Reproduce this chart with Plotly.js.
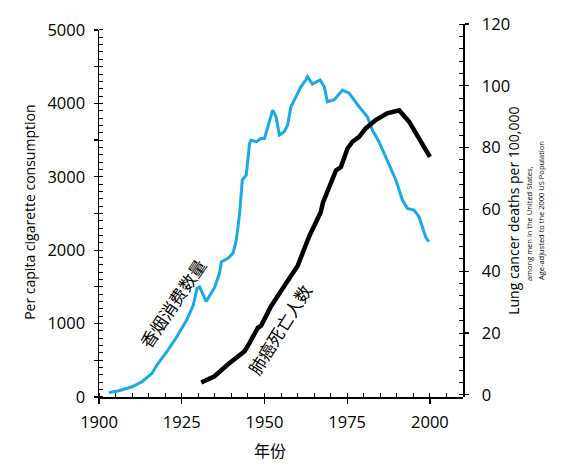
<!DOCTYPE html>
<html>
<head>
<meta charset="utf-8">
<script src="https://cdn.plot.ly/plotly-3.0.1.min.js"></script>
<style>
  body { margin: 0; background: #fff; }
  #chart { width: 564px; height: 467px; }
</style>
</head>
<body>
<div id="chart"></div>
<script>

// per capita cigarette consumption (left axis)
const cigYears = [1903, 1906, 1910, 1913, 1916, 1917.5, 1920.5, 1923.5, 1926.5, 1928.5,
    1929.6, 1930.4, 1932.4, 1935, 1936.4, 1937, 1939, 1940.5, 1941.5, 1942.5,
    1943.3, 1944.5, 1945.5, 1946, 1947.5, 1949, 1950, 1951, 1952.5, 1953.5,
    1954.5, 1956, 1957, 1958, 1959.5, 1961, 1962.5, 1963, 1964.5, 1966,
    1966.8, 1968.1, 1969, 1971.1, 1973.6, 1975.6, 1978.6, 1981.1, 1982.6, 1984.6,
    1987.1, 1989.7, 1991.7, 1993.2, 1995.2, 1996.7, 1997.7, 1998.7, 1999.7];
const cigValues = [60, 86, 140, 208, 322, 436, 617, 821, 1049, 1253,
    1480, 1500, 1300, 1500, 1685, 1843, 1889, 1960, 2138, 2502,
    2955, 3024, 3455, 3500, 3477, 3523, 3523, 3682, 3909, 3818,
    3568, 3613, 3705, 3954, 4090, 4226, 4318, 4362, 4263, 4294,
    4318, 4226, 4022, 4050, 4181, 4140, 3954, 3818, 3637, 3477,
    3228, 2956, 2683, 2570, 2547, 2456, 2320, 2183, 2115];

// lung cancer deaths per 100,000 (right axis)
const deathYears = [1930.9, 1934.9, 1938.9, 1944, 1945.5, 1947, 1948, 1949, 1952, 1956,
    1960, 1963.6, 1967, 1967.7, 1969, 1971.6, 1973.1, 1975.1, 1976.6, 1978.6,
    1980.6, 1983.6, 1987.1, 1989.2, 1990.7, 1993.7, 1996.7, 2000];
const deathValues = [4.0, 6.0, 9.8, 14.1, 16.8, 20.1, 21.7, 22.4, 28.7, 35.2,
    41.7, 51.5, 59.1, 62.3, 65.6, 72.6, 73.7, 79.7, 81.9, 83.5,
    86.2, 88.9, 91.1, 91.6, 92.1, 88.4, 82.9, 77.0];

const leftTicks = [0, 500, 1000, 1500, 2000, 2500, 3000, 3500, 4000, 4500, 5000];
const rightTicks = [0, 20, 40, 60, 80, 100, 120];
const yearTicks = [1900, 1925, 1950, 1975, 2000];

const font = "Open Sans, Noto Sans, sans-serif";
const cjk = "Noto Sans CJK SC, sans-serif";

const traces = [];

traces.push({
    x: cigYears,
    y: cigValues,
    mode: "lines",
    line: { color: "#1ca8e2", width: 3 },
    xaxis: "x",
    yaxis: "y",
    hoverinfo: "skip"
});

traces.push({
    x: deathYears,
    y: deathValues,
    mode: "lines",
    line: { color: "#000000", width: 4.5 },
    xaxis: "x",
    yaxis: "y2",
    hoverinfo: "skip"
});

const layout = {
    width: 564,
    height: 467,
    margin: { l: 99, r: 101, t: 24, b: 70 },
    paper_bgcolor: "#fff",
    plot_bgcolor: "rgba(0,0,0,0)",
    showlegend: false,
    font: { family: font, color: "#000" },

    xaxis: {
        range: [1900, 2010],
        tickvals: yearTicks,
        ticktext: yearTicks.map(String),
        ticks: "outside",
        ticklen: 5,
        tickwidth: 1.2,
        tickcolor: "#000",
        minor: { dtick: 5, tick0: 1900, ticks: "inside", ticklen: 4, tickcolor: "#000", tickwidth: 1 },
        showgrid: false,
        zeroline: false,
        showline: true,
        linecolor: "#000",
        linewidth: 1.5,
        tickfont: { size: 16.5 },
        ticklabelstandoff: 5,
        anchor: "y"
    },

    yaxis: {
        domain: [0, 0.984],
        range: [0, 5000],
        tickvals: leftTicks,
        ticktext: leftTicks.map(v => v % 1000 === 0 ? String(v) : ""),
        ticks: "outside",
        ticklen: 4,
        tickwidth: 1.2,
        tickcolor: "#000",
        minor: { dtick: 100, ticks: "inside", ticklen: 4, tickcolor: "#000", tickwidth: 1 },
        showgrid: false,
        zeroline: false,
        showline: true,
        linecolor: "#000",
        linewidth: 1.5,
        tickfont: { size: 16.5 },
        ticklabelstandoff: 5,
        anchor: "x"
    },

    yaxis2: {
        domain: [0, 1],
        range: [-0.7, 120],
        side: "right",
        anchor: "x",
        tickvals: rightTicks,
        ticktext: rightTicks.map(String),
        ticks: "outside",
        ticklen: 4,
        tickwidth: 1.2,
        tickcolor: "#000",
        minor: { dtick: 4, ticks: "inside", ticklen: 4, tickcolor: "#000", tickwidth: 1 },
        showgrid: false,
        zeroline: false,
        showline: true,
        linecolor: "#000",
        linewidth: 1.5,
        tickfont: { size: 16.5 },
        ticklabelstandoff: 10
    },

    annotations: [
        {
            text: "Per capita cigarette consumption",
            xref: "paper", yref: "paper", x: -0.19, y: 0.496,
            textangle: -90, showarrow: false,
            xanchor: "center", yanchor: "middle",
            font: { size: 14, family: font }
        },
        {
            text: "Lung cancer deaths per 100,000",
            xref: "paper", yref: "paper", x: 1.14, y: 0.499,
            textangle: -90, showarrow: false,
            xanchor: "center", yanchor: "middle",
            font: { size: 14, family: font }
        },
        {
            text: "among men in the United States,",
            xref: "paper", yref: "paper", x: 1.181, y: 0.466,
            textangle: -90, showarrow: false,
            xanchor: "center", yanchor: "middle",
            font: { size: 7.5, family: font }
        },
        {
            text: "Age-adjusted to the 2000 US Population",
            xref: "paper", yref: "paper", x: 1.214, y: 0.501,
            textangle: -90, showarrow: false,
            xanchor: "center", yanchor: "middle",
            font: { size: 7.5, family: font }
        },
        {
            text: "年份",
            xref: "paper", yref: "paper", x: 0.47, y: -0.142,
            showarrow: false,
            xanchor: "center", yanchor: "middle",
            font: { size: 16, family: cjk }
        },
        {
            text: "香烟消费数量",
            xref: "paper", yref: "paper", x: 0.2005, y: 0.252,
            textangle: -56, showarrow: false,
            xanchor: "center", yanchor: "middle",
            font: { size: 17, family: cjk }
        },
        {
            text: "肺癌死亡人数",
            xref: "paper", yref: "paper", x: 0.4945, y: 0.182,
            textangle: -58, showarrow: false,
            xanchor: "center", yanchor: "middle",
            font: { size: 17, family: cjk }
        }
    ]
};

Plotly.newPlot("chart", traces, layout, { displayModeBar: false, staticPlot: true });

</script>
</body>
</html>
